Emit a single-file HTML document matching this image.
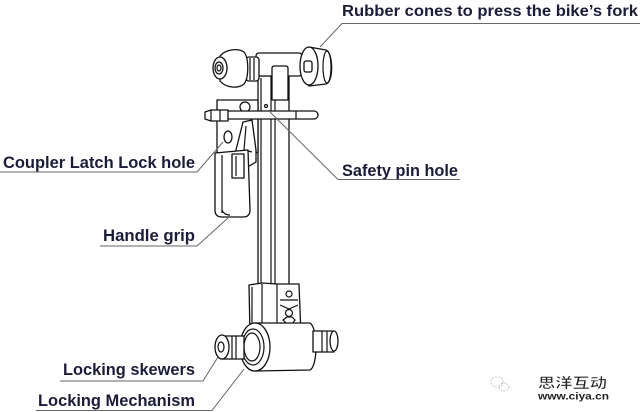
<!DOCTYPE html>
<html><head><meta charset="utf-8"><style>
html,body{margin:0;padding:0;background:#fff;}
svg{display:block;}
.t{font-family:"Liberation Sans",Arial,sans-serif;font-weight:bold;fill:#1c1c38;}
.d{fill:#fff;stroke:#111;stroke-width:1.3;stroke-linejoin:round;}
.l{fill:none;stroke:#111;stroke-width:1.2;}
.ld{fill:none;stroke:#666;stroke-width:1;}
</style></head><body>
<svg width="640" height="412" viewBox="0 0 640 412" xmlns="http://www.w3.org/2000/svg">
<rect width="640" height="412" fill="#fff"/>

<!-- vertical shaft -->
<rect class="d" x="258" y="76" width="31" height="210"/>
<line class="l" x1="261" y1="78" x2="261" y2="286"/>
<line class="l" x1="271" y1="68" x2="271" y2="286"/>
<line class="l" x1="275" y1="68" x2="275" y2="286"/>

<!-- top tube -->
<rect class="d" x="256" y="53" width="46" height="23" rx="3"/>
<path class="d" d="M272,68 Q272,66 275,66 L285,66 Q288,66 288,68 L288,100 L272,100 Z"/>

<!-- left cone -->
<rect class="d" x="246" y="57" width="13" height="24" rx="3"/>
<line class="l" x1="250" y1="58" x2="250" y2="80"/>
<line class="l" x1="254" y1="58" x2="254" y2="80"/>
<path class="d" d="M220,56 C226,49 238,48 244,52 C249,58 249,78 244,84 C238,89 226,88 220,81 Z"/>
<ellipse class="d" cx="220" cy="68" rx="7" ry="11"/>
<ellipse class="d" cx="219" cy="68" rx="4" ry="6"/>
<ellipse class="l" cx="219" cy="68" rx="2" ry="3"/>

<!-- right cone -->
<path class="d" d="M309,47 L326,50 C333,52 334,82 326,84 L309,86 Z"/>
<ellipse class="d" cx="309" cy="66" rx="9" ry="19"/>
<ellipse class="l" cx="327" cy="67" rx="4" ry="16"/>
<rect class="d" x="304" y="61" width="8" height="11" rx="2"/>

<!-- latch plate -->
<path class="d" d="M217,100 L258,100 L258,152 L240,160 L217,160 Z"/>
<ellipse class="d" cx="245" cy="107" rx="5" ry="5"/>
<ellipse class="d" cx="228" cy="137" rx="4" ry="6"/>
<path class="d" d="M243,122 L252,120 L256,150 L256,162 L246,168 L238,160 L236,150 Z"/>
<path class="l" d="M246,126 L244,150 L252,152"/>
<!-- pin -->
<rect class="d" x="225" y="111" width="93" height="8" rx="4"/>
<line class="l" x1="296" y1="111" x2="296" y2="119"/>
<ellipse class="l" cx="266" cy="106" rx="1.5" ry="1.5"/>
<path class="d" d="M205,112 L211,110 L228,110 L228,121 L211,121 L205,119 Z"/>
<line class="l" x1="211" y1="110" x2="211" y2="121"/>
<line class="l" x1="220" y1="110" x2="220" y2="121"/>

<!-- handle grip -->
<path class="d" d="M215,153 L248,150 L250,210 Q250,217 243,217 L222,217 Q215,217 215,210 Z"/>
<line class="l" x1="222" y1="155" x2="222" y2="213"/>
<path class="l" d="M222,210 Q224,215 230,215"/>
<rect class="d" x="232" y="154" width="12" height="24"/>
<line class="l" x1="236" y1="156" x2="236" y2="176"/>

<!-- bottom block -->
<path class="d" d="M249,285 L262,283 L277,284 L299,284 L301,335 L250,335 Z"/>
<line class="l" x1="262" y1="284" x2="262" y2="330"/>
<line class="l" x1="277" y1="284" x2="277" y2="330"/>
<line class="l" x1="252" y1="287" x2="252" y2="330"/>
<circle class="l" cx="289" cy="294" r="3"/>
<circle class="l" cx="289" cy="313" r="3.5"/>
<path class="l" d="M280,300 L298,300 M280,305 L289,309 L298,305"/>
<polygon class="l" points="283,320 287,317 292,317 295,320 292,324 287,324"/>
<polygon class="l" points="281,329 284,326 288,329 284,332"/>
<polygon class="l" points="291,329 294,326 298,329 294,332"/>

<!-- hub -->
<path class="d" d="M255,323 L310,323 C318,328 318,366 310,370 L255,371 Z"/>
<ellipse class="d" cx="255" cy="347" rx="15" ry="24"/>
<ellipse class="l" cx="253" cy="347" rx="11" ry="18"/>
<ellipse class="l" cx="252" cy="347" rx="8" ry="14"/>
<!-- left skewer -->
<rect class="d" x="222" y="336" width="22" height="23"/>
<line class="l" x1="232" y1="336" x2="232" y2="359"/>
<line class="l" x1="236" y1="336" x2="236" y2="359"/>
<ellipse class="d" cx="222" cy="347" rx="7" ry="12"/>
<ellipse class="l" cx="221" cy="347" rx="3" ry="5"/>
<!-- right skewer -->
<rect class="d" x="313" y="331" width="21" height="21"/>
<line class="l" x1="322" y1="331" x2="322" y2="352"/>
<line class="l" x1="327" y1="331" x2="327" y2="352"/>
<ellipse class="d" cx="334" cy="341" rx="4" ry="10"/>

<!-- labels -->
<text class="t" x="342" y="16" font-size="16" textLength="296" lengthAdjust="spacingAndGlyphs">Rubber cones to press the bike’s fork</text>
<path class="ld" d="M640,23.5 L342,23.5 L320,47"/>

<text class="t" x="3" y="168" font-size="17" textLength="192" lengthAdjust="spacingAndGlyphs">Coupler Latch Lock hole</text>
<path class="ld" d="M0,172 L197,172 L223,142"/>

<text class="t" x="103" y="241" font-size="17" textLength="92" lengthAdjust="spacingAndGlyphs">Handle grip</text>
<path class="ld" d="M100,246 L197,246 L228,218"/>

<text class="t" x="342" y="176" font-size="17" textLength="116" lengthAdjust="spacingAndGlyphs">Safety pin hole</text>
<path class="ld" d="M460,179.5 L338,179.5 L270,112"/>

<text class="t" x="63" y="375" font-size="17" textLength="132" lengthAdjust="spacingAndGlyphs">Locking skewers</text>
<path class="ld" d="M60,381 L203,381 L218,357"/>

<text class="t" x="38" y="406" font-size="17" textLength="157" lengthAdjust="spacingAndGlyphs">Locking Mechanism</text>
<path class="ld" d="M36,410.5 L212,410.5 L244,369"/>

<!-- watermark -->
<g fill="none" stroke="#bbb" stroke-width="1" stroke-dasharray="1.5,1.5">
<ellipse cx="497" cy="382" rx="6" ry="5"/>
<ellipse cx="504" cy="387" rx="5" ry="4"/>
</g>
<text x="538" y="388" font-size="14" font-weight="bold" font-family="'Liberation Sans','Noto Sans CJK SC',sans-serif" fill="#222" stroke="#fff" stroke-width="0.5" textLength="69" lengthAdjust="spacingAndGlyphs">思洋互动</text>
<text x="538" y="399.5" font-size="10" font-weight="bold" font-family="'Liberation Sans',sans-serif" fill="#222" textLength="71" lengthAdjust="spacingAndGlyphs">www.ciya.cn</text>
</svg>
</body></html>
